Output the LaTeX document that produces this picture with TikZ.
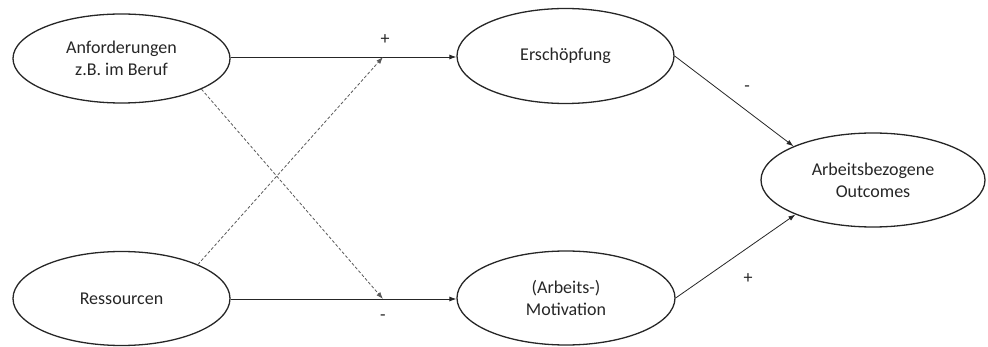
\documentclass[tikz,border=0pt]{standalone}
\usepackage{fontspec}
\setmainfont{Carlito}
\usetikzlibrary{shapes.geometric,arrows.meta}
\begin{document}
\begin{tikzpicture}[x=1pt,y=-1pt,
  latent/.style={ellipse,draw=black!85,line width=1.3pt,inner sep=0pt,align=center,
    font=\fontsize{18}{22}\selectfont,text=black!85},
  path/.style={draw=black!85,line width=0.8pt,-{Latex[length=7pt,width=5pt]}},
  moderation/.style={draw=black!65,line width=0.8pt,dash pattern=on 3pt off 2pt,-{Latex[length=7pt,width=5pt]}},
  sign/.style={font=\fontsize{18}{22}\selectfont,text=black!85,inner sep=0pt}]
\useasboundingbox (0,0) rectangle (988,347);
\node[latent,minimum width=217pt,minimum height=89pt] (A) at (121.5,58.5) {Anforderungen\\z.B. im Beruf};
\node[latent,minimum width=217pt,minimum height=94pt] (R) at (121.5,298.5) {Ressourcen};
\node[latent,minimum width=217pt,minimum height=95pt] (E) at (565.5,56) {Erschöpfung};
\node[latent,minimum width=218pt,minimum height=94pt] (M) at (566,298) {(Arbeits-)\\Motivation};
\node[latent,minimum width=224pt,minimum height=94pt] (O) at (873,180) {Arbeitsbezogene\\Outcomes};
\coordinate (p1) at (383,57);
\coordinate (p2) at (383,299);
\draw[path] (A.east |- p1) -- (E.west |- p1);
\draw[path] (R.east |- p2) -- (M.west |- p2);
\draw[moderation] (A.-21) -- (p2);
\draw[moderation] (R.24) -- (p1);
\draw[path] (E.east) -- (O.157);
\draw[path] (M.east) -- (O.204);
\node[sign] (s1) at (385,40) {+};
\node[sign] (s2) at (383,318) {-};
\node[sign] (s3) at (747,89) {-};
\node[sign] (s4) at (748,279) {+};
\end{tikzpicture}
\end{document}
